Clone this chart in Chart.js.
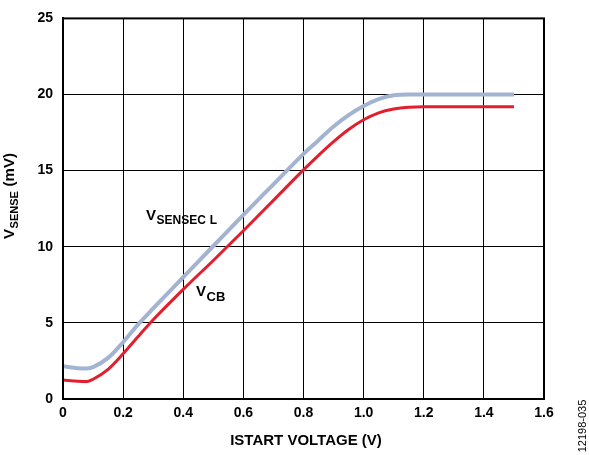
<!DOCTYPE html>
<html><head><meta charset="utf-8">
<script src="https://cdn.jsdelivr.net/npm/chart.js@4/dist/chart.umd.min.js"></script>
<style>html,body{margin:0;padding:0;background:#fff}#wrap{width:589px;height:455px;position:relative}</style>
</head><body><div id="wrap"><canvas id="c" width="589" height="455"></canvas></div>
<script>
const xSense = [0, 0.05, 0.075, 0.1, 0.15, 0.2, 0.25, 0.3, 0.4, 0.5, 0.6, 0.7, 0.8, 0.85, 0.9, 0.95, 1.0, 1.05, 1.1, 1.15, 1.2, 1.3, 1.4, 1.5];
const vSenseCL = [2.15, 2.02, 2.0, 2.1, 2.7, 3.73, 4.9, 5.95, 8.0, 10.05, 12.1, 14.1, 16.1, 17.0, 17.9, 18.65, 19.25, 19.7, 19.95, 20.0, 20.0, 20.0, 20.0, 20.0];
const xCB = [0, 0.05, 0.08, 0.1, 0.15, 0.2, 0.25, 0.3, 0.4, 0.5, 0.6, 0.7, 0.8, 0.85, 0.9, 0.95, 1.0, 1.05, 1.1, 1.15, 1.2, 1.3, 1.4, 1.5];
const vCB = [1.25, 1.17, 1.15, 1.3, 1.95, 2.97, 4.1, 5.2, 7.2, 9.1, 11.05, 13.05, 15.05, 16.0, 16.9, 17.7, 18.34, 18.8, 19.05, 19.17, 19.2, 19.2, 19.2, 19.2];
const xTicks = [0, 0.2, 0.4, 0.6, 0.8, 1.0, 1.2, 1.4, 1.6];
const yTicks = [0, 5, 10, 15, 20, 25];

const FONT = "'Liberation Sans', Arial, sans-serif";

const decor = {
  id: "decor",
  afterDraw(chart) {
    const ctx = chart.ctx;
    const a = chart.chartArea;
    ctx.save();
    ctx.strokeStyle = "#000";
    ctx.lineWidth = 2;
    ctx.strokeRect(a.left, a.top, a.right - a.left, a.bottom - a.top);
    ctx.fillStyle = "#000";
    ctx.textAlign = "left";
    ctx.textBaseline = "alphabetic";
    // VSENSECL label
    ctx.font = "bold 15px " + FONT;
    ctx.fillText("V", 146, 220);
    let w = ctx.measureText("V").width;
    ctx.font = "bold 12px " + FONT;
    ctx.fillText("SENSEC", 146 + w + 0.5, 224);
    const w2 = ctx.measureText("SENSEC").width;
    ctx.fillText("L", 146 + w + 0.5 + w2 + 4, 224);
    // VCB label
    ctx.font = "bold 15px " + FONT;
    ctx.fillText("V", 196, 296);
    w = ctx.measureText("V").width;
    ctx.font = "bold 13px " + FONT;
    ctx.fillText("CB", 196 + w + 0.5, 301);
    // x title
    ctx.font = "bold 15px " + FONT;
    ctx.textAlign = "center";
    ctx.textBaseline = "middle";
    ctx.fillText("ISTART VOLTAGE (V)", 306, 441);
    // y title rotated
    ctx.save();
    ctx.translate(14, 0);
    ctx.rotate(-Math.PI / 2);
    ctx.font = "bold 15px " + FONT;
    const a1 = ctx.measureText("V").width;
    ctx.font = "bold 11px " + FONT;
    const a2 = ctx.measureText("SENSE").width;
    ctx.font = "bold 15px " + FONT;
    const a3 = ctx.measureText(" (mV)").width;
    const total = a1 + a2 + a3 + 1;
    const sx = -196 - total / 2;
    ctx.textAlign = "left";
    ctx.textBaseline = "alphabetic";
    ctx.fillText("V", sx, 0);
    ctx.font = "bold 11px " + FONT;
    ctx.fillText("SENSE", sx + a1 + 0.5, 4);
    ctx.font = "bold 15px " + FONT;
    ctx.fillText(" (mV)", sx + a1 + a2 + 1, 0);
    ctx.restore();
    // figure code
    ctx.save();
    ctx.translate(586, 426);
    ctx.rotate(-Math.PI / 2);
    ctx.font = "11px " + FONT;
    ctx.textAlign = "center";
    ctx.textBaseline = "alphabetic";
    ctx.fillText("12198-035", 0, 0);
    ctx.restore();
    ctx.restore();
  }
};

new Chart(document.getElementById("c"), {
  type: "line",
  data: {
    datasets: [
      { label: "VSENSECL", data: xSense.map((x, i) => ({ x: x, y: vSenseCL[i] })), borderColor: "#a3b4d2", borderWidth: 4, pointRadius: 0, cubicInterpolationMode: "monotone", fill: false },
      { label: "VCB", data: xCB.map((x, i) => ({ x: x, y: vCB[i] })), borderColor: "#e31e2d", borderWidth: 3, pointRadius: 0, cubicInterpolationMode: "monotone", fill: false }
    ]
  },
  options: {
    responsive: false,
    animation: false,
    devicePixelRatio: 1,
    layout: { padding: { left: 0, top: 15, right: 45, bottom: 0 } },
    plugins: { legend: { display: false }, tooltip: { enabled: false } },
    scales: {
      x: {
        type: "linear", min: 0, max: 1.6,
        afterBuildTicks: s => { s.ticks = xTicks.map(v => ({ value: v })); },
        afterFit: s => { s.height = 56; },
        grid: { color: "#000", lineWidth: 1, drawTicks: false },
        border: { color: "#000", width: 2 },
        ticks: { color: "#000", padding: 6, font: { family: FONT, size: 14, weight: "bold" }, maxRotation: 0,
          callback: v => v === 0 ? "0" : v.toFixed(1) }
      },
      y: {
        type: "linear", min: 0, max: 25,
        afterBuildTicks: s => { s.ticks = yTicks.map(v => ({ value: v })); },
        afterFit: s => { s.width = 63; },
        grid: { color: "#000", lineWidth: 1, drawTicks: false },
        border: { color: "#000", width: 2 },
        ticks: { color: "#000", padding: 10, font: { family: FONT, size: 14, weight: "bold" },
          callback: v => String(v) }
      }
    }
  },
  plugins: [decor]
});
</script>
</body></html>
